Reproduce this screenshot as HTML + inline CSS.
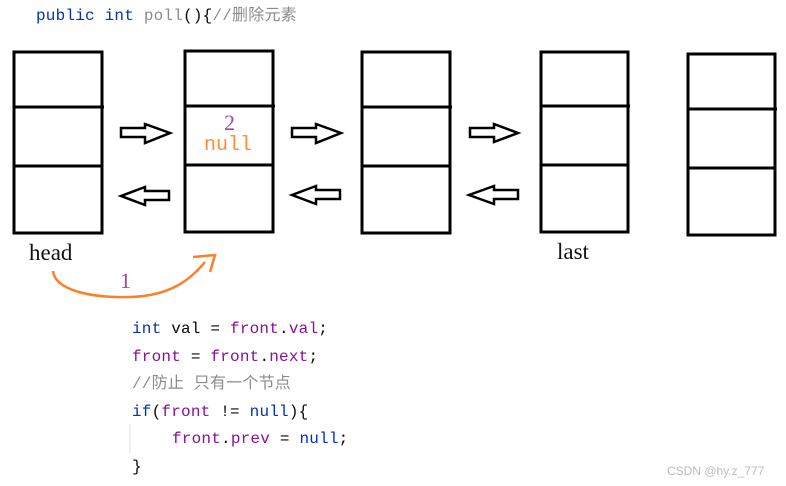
<!DOCTYPE html>
<html><head><meta charset="utf-8"><style>
body{margin:0;width:786px;height:486px;background:#fff;overflow:hidden;position:relative}
.c{position:absolute;font-family:"Liberation Mono","Noto Sans CJK SC",monospace;font-size:16px;letter-spacing:0.2px;white-space:pre;line-height:18px}
.k{color:#0033b3}.p{color:#871094}.g{color:#8c8c8c}.t{color:#080808}
</style></head><body>
<svg width="786" height="486" style="position:absolute;left:0;top:0">
<g fill="none" stroke="#000" stroke-width="3">
<rect x="14" y="52" width="88" height="181"/><line x1="14" y1="107" x2="104" y2="107"/><line x1="14" y1="166" x2="102" y2="166"/>
<rect x="185" y="51" width="88" height="181"/><line x1="185" y1="106" x2="275" y2="106"/><line x1="185" y1="165" x2="273" y2="165"/>
<rect x="362" y="52" width="88" height="181"/><line x1="362" y1="107" x2="452" y2="107"/><line x1="362" y1="166" x2="450" y2="166"/>
<rect x="541" y="52" width="87" height="180"/><line x1="541" y1="106" x2="630" y2="106"/><line x1="541" y1="165" x2="628" y2="165"/>
<rect x="688" y="54" width="87" height="181"/><line x1="688" y1="109" x2="777" y2="109"/><line x1="688" y1="168" x2="775" y2="168"/>
</g>
<g fill="#fff" stroke="#000" stroke-width="2.5" stroke-linejoin="miter">
<polygon points="121,128 145,128 145,124 170,133 145,143 145,137 121,137"/>
<polygon points="292,128 316,128 316,124 341,133 316,143 316,137 292,137"/>
<polygon points="470,128 494,128 494,124 518,133 494,142 494,137 470,137"/>
<polygon points="169,191 145,191 145,187 121,196 145,205 145,200 169,200"/>
<polygon points="340,190 316,190 316,186 292,195 316,204 316,199 340,199"/>
<polygon points="518,190 494,190 494,186 469,195 494,204 494,199 518,199"/>
</g>
<path d="M53,271 C55,290 90,298 130,297 C170,296 190,280 205,262" fill="none" stroke="#ff7f27" stroke-width="2.5"/>
<path d="M193,257 L215,255 L210,272" fill="none" stroke="#ff7f27" stroke-width="2.5"/>
<text x="29" y="260" font-family="Liberation Serif" font-size="23" fill="#111">head</text>
<text x="557" y="259" font-family="Liberation Serif" font-size="23" fill="#111">last</text>
<text x="120" y="288" font-family="Liberation Serif" font-size="22" fill="#a349a4">1</text>
<text x="224" y="130" font-family="Liberation Serif" font-size="22" fill="#a349a4">2</text>
<text x="204" y="150" font-family="Liberation Mono" font-size="20" fill="#ff8c3a">null</text>
<line x1="130" y1="424" x2="130" y2="453" stroke="#ddd" stroke-width="1"/>
</svg>
<div class="c" style="left:36px;top:7px"><span class="k">public int</span> <span class="g">poll</span><span class="t">(){</span><span class="g">//删除元素</span></div>
<div class="c" style="left:132px;top:320px"><span class="k">int</span><span class="t"> val = </span><span class="p">front</span><span class="t">.</span><span class="p">val</span><span class="t">;</span></div>
<div class="c" style="left:132px;top:348px"><span class="p">front</span><span class="t"> = </span><span class="p">front</span><span class="t">.</span><span class="p">next</span><span class="t">;</span></div>
<div class="c" style="left:132px;top:375px"><span class="g">//防止 只有一个节点</span></div>
<div class="c" style="left:132px;top:403px"><span class="k">if</span><span class="t">(</span><span class="p">front</span><span class="t"> != </span><span class="k">null</span><span class="t">){</span></div>
<div class="c" style="left:172px;top:430px"><span class="p">front</span><span class="t">.</span><span class="p">prev</span><span class="t"> = </span><span class="k">null</span><span class="t">;</span></div>
<div class="c" style="left:132px;top:458px"><span class="t">}</span></div>
<div style="position:absolute;left:667px;top:464px;font-family:'Liberation Sans',sans-serif;font-size:12px;color:#bbb">CSDN @hy.z_777</div>
</body></html>
